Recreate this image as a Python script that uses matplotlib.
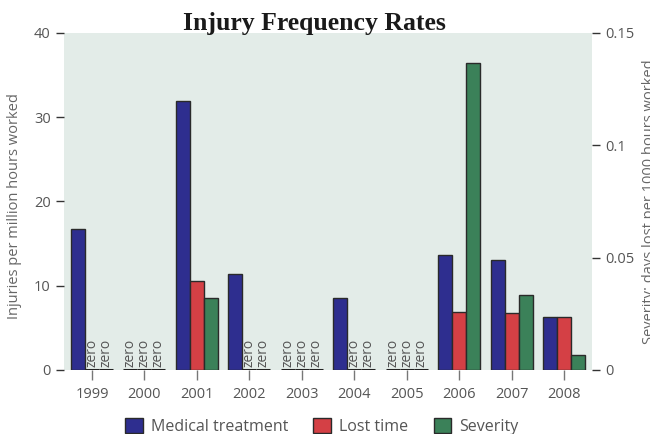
import matplotlib.pyplot as plt
import numpy as np

# data
years = ['1999', '2000', '2001', '2002', '2003', '2004', '2005', '2006', '2007', '2008']
medical = [16.7, 0, 31.9, 11.35, 0, 8.6, 0, 13.7, 13.1, 6.3]
lost_time = [0, 0, 10.6, 0, 0, 0, 0, 6.85, 6.75, 6.3]
severity = [0, 0, 0.0322, 0, 0, 0, 0, 0.1365, 0.0333, 0.0067]

c_med = '#2e2e8f'
c_lost = '#d44045'
c_sev = '#3b8159'
edge = '#2a2a2a'
txt = '#555555'

plt.rcParams['font.family'] = ['Open Sans', 'DejaVu Sans']

fig = plt.figure(figsize=(6.5, 4.34), dpi=100)
ax = fig.add_axes([0.0985, 0.1475, 0.8123, 0.7765])
ax2 = ax.twinx()
ax.set_facecolor('#e3ece8')

x = np.arange(len(years))
w = 0.267
offsets = [-w, 0, w]
series = [(ax, medical, c_med), (ax, lost_time, c_lost), (ax2, severity, c_sev)]

for (a, vals, col), off in zip(series, offsets):
    vals = np.array(vals)
    nz = vals > 0
    a.bar(x[nz] + off, vals[nz], w, color=col, edgecolor=edge, linewidth=1)
    # zero values: flat line + "zero" label
    for xi in x[~nz]:
        a.hlines(0, xi + off - w / 2, xi + off + w / 2, color='#222222', lw=2.2, zorder=3)
        ax.text(xi + off, 0.3, 'zero', rotation=90, ha='center', va='bottom',
                fontsize=10, color=txt, zorder=4)

ax.set_xlim(-0.534, 9.534)
ax.set_ylim(0, 40)
ax2.set_ylim(0, 0.15)
ax.set_yticks([0, 10, 20, 30, 40])
ax2.set_yticks([0, 0.05, 0.1, 0.15])
ax2.set_yticklabels(['0', '0.05', '0.1', '0.15'])
ax.set_xticks(x)
ax.set_xticklabels(years)

for a in (ax, ax2):
    for s in a.spines.values():
        s.set_visible(False)
    a.tick_params(colors='#333333', labelcolor=txt, labelsize=10.5, length=6, width=1)
ax.tick_params(axis='x', colors='#777777', labelcolor=txt, length=7, pad=5)

fig.text(0.023, 0.525, 'Injuries per million hours worked', rotation=90,
         ha='center', va='center', fontsize=10.5, color='#666666')
fig.text(0.987, 0.535, 'Severity: days lost per 1000 hours worked', rotation=90,
         ha='left', va='center', fontsize=10.5, color='#666666')

fig.text(0.483, 0.947, 'Injury Frequency Rates', ha='center', va='center',
         fontsize=18.5, fontweight='bold', family='Liberation Serif', color='#1a1a1a')

handles = [plt.Rectangle((0, 0), 1, 1, facecolor=c, edgecolor=edge, lw=1)
           for c in (c_med, c_lost, c_sev)]
fig.legend(handles, ['Medical treatment', 'Lost time', 'Severity'], loc='center',
           bbox_to_anchor=(0.495, 0.018), ncol=3, frameon=False, fontsize=11.5,
           labelcolor=txt, handlelength=1.1, handleheight=1.1, columnspacing=1.6,
           handletextpad=0.5)

fig.savefig('out.png', dpi=100)
